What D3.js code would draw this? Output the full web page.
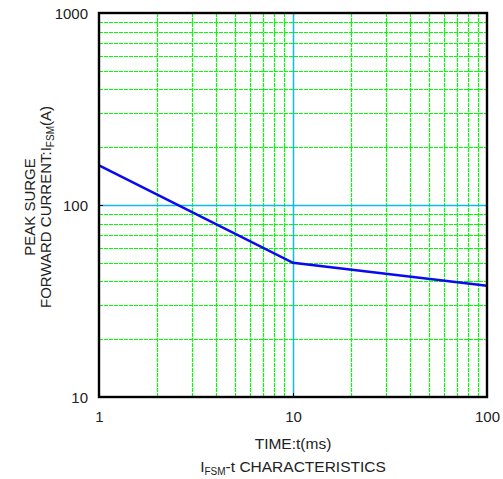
<!DOCTYPE html>
<html><head><meta charset="utf-8">
<script src="https://cdn.jsdelivr.net/npm/d3@7"></script>
<style>body{margin:0;background:#fff}svg{display:block}text{font-family:"Liberation Sans",Arial,sans-serif;fill:#222}</style>
</head><body><svg id="c" width="503" height="479"></svg>
<script>
const timeMs = [1, 10, 100];
const ifsmA = [161, 50, 38];
const xTicks = [1, 10, 100];
const yTicks = [10, 100, 1000];
const xMinor = [2,3,4,5,6,7,8,9,20,30,40,50,60,70,80,90];
const yMinor = [20,30,40,50,60,70,80,90,200,300,400,500,600,700,800,900];

const L = 99, R = 487, T = 13, B = 397;
const svg = d3.select("#c");
const x = d3.scaleLog().domain([1,100]).range([L,R]);
const y = d3.scaleLog().domain([10,1000]).range([B,T]);
const px = v => Math.round(v) + 0.5;

const g = svg.append("g");
g.selectAll("line.vm").data(xMinor).join("line")
  .attr("x1", d=>px(x(d))).attr("x2", d=>px(x(d))).attr("y1", T).attr("y2", B)
  .attr("stroke", "#00ff00").attr("stroke-width", 1.2).attr("stroke-dasharray", "4,1");
g.selectAll("line.hm").data(yMinor).join("line")
  .attr("y1", d=>px(y(d))).attr("y2", d=>px(y(d))).attr("x1", L).attr("x2", R)
  .attr("stroke", "#00ff00").attr("stroke-width", 1.2).attr("stroke-dasharray", "4,1");
g.append("line").attr("x1", px(x(10))).attr("x2", px(x(10))).attr("y1", T).attr("y2", B)
  .attr("stroke", "#10b8f0").attr("stroke-width", 1.5);
g.append("line").attr("y1", px(y(100))).attr("y2", px(y(100))).attr("x1", L).attr("x2", R)
  .attr("stroke", "#10b8f0").attr("stroke-width", 1.5);

// axes
const xa = svg.append("g").attr("transform", `translate(0,${B})`)
  .call(d3.axisBottom(x).tickValues(xTicks).tickFormat(d3.format("d")).tickSizeInner(-4).tickSizeOuter(0).tickPadding(14));
const ya = svg.append("g").attr("transform", `translate(${L},0)`)
  .call(d3.axisLeft(y).tickValues(yTicks).tickFormat(d3.format("d")).tickSizeInner(-4).tickSizeOuter(0).tickPadding(11));
[xa, ya].forEach(a => {
  a.select(".domain").remove();
  a.selectAll("text").attr("font-size", 15).attr("fill", "#222");
  a.selectAll(".tick line").attr("stroke", "#000");
});
ya.selectAll("text").attr("dy", "0.35em");

// line
svg.append("path").datum(timeMs.map((t,i)=>[t, ifsmA[i]]))
  .attr("d", d3.line().x(d=>x(d[0])).y(d=>y(d[1])))
  .attr("fill", "none").attr("stroke", "#0a0aee").attr("stroke-width", 2.6);

// frame
svg.append("rect").attr("x", L).attr("y", T).attr("width", R-L).attr("height", B-T)
  .attr("fill", "none").attr("stroke", "#000").attr("stroke-width", 2.4);

// titles
svg.append("text").attr("x", (L+R)/2).attr("y", 449).attr("text-anchor", "middle").attr("font-size", 15.5).text("TIME:t(ms)");
const t2 = svg.append("text").attr("x", (L+R)/2).attr("y", 472).attr("text-anchor", "middle").attr("font-size", 15.5);
t2.append("tspan").text("I");
t2.append("tspan").attr("font-size", 10).attr("dy", 3).text("FSM");
t2.append("tspan").attr("dy", -3).text("-t CHARACTERISTICS");

const yt = svg.append("g").attr("transform", `translate(0,${(T+B)/2 + 2}) rotate(-90)`);
yt.append("text").attr("x", 0).attr("y", 35).attr("text-anchor", "middle").attr("font-size", 15).text("PEAK SURGE");
const yt2 = yt.append("text").attr("x", 0).attr("y", 51).attr("text-anchor", "middle").attr("font-size", 15);
yt2.append("tspan").text("FORWARD CURRENT:I");
yt2.append("tspan").attr("font-size", 10).attr("dy", 3).text("FSM");
yt2.append("tspan").attr("dy", -3).text("(A)");
</script></body></html>
